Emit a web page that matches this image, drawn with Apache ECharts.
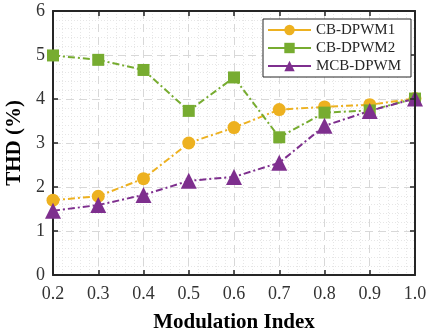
<!DOCTYPE html>
<html><head><meta charset="utf-8">
<script src="https://cdn.jsdelivr.net/npm/echarts@6/dist/echarts.min.js"></script>
<style>html,body{margin:0;padding:0;background:#fff}#c{width:429px;height:330px}</style>
</head><body><div id="c"></div>
<script>
var modIndex = [0.2, 0.3, 0.4, 0.5, 0.6, 0.7, 0.8, 0.9, 1.0];
var cbDpwm1 = [1.70, 1.79, 2.19, 3.00, 3.35, 3.76, 3.82, 3.87, 4.01];
var cbDpwm2 = [4.99, 4.89, 4.66, 3.73, 4.49, 3.13, 3.69, 3.74, 4.01];
var mcbDpwm = [1.46, 1.59, 1.82, 2.14, 2.23, 2.55, 3.39, 3.73, 4.01];
var names = ['CB-DPWM1', 'CB-DPWM2', 'MCB-DPWM'];
var colors = ['#EDB120', '#77AC30', '#7E2F8E'];

function pairs(ys){ return modIndex.map(function(x,i){ return [x, ys[i]]; }); }
var font = 'Liberation Serif, Times New Roman, serif';
function mk(name, ys, color, symbol, size){
  return {name:name, type:'line', data:pairs(ys), symbol:symbol, symbolSize:size,
    lineStyle:{color:color, width:2, type:[7, 3, 2, 3]}, itemStyle:{color:color},
    emphasis:{disabled:true}, z:3};
}
function axisLine(){ return {show:true, onZero:false, lineStyle:{color:'#262626', width:2}}; }
function tick(){ return {show:true, inside:true, length:5, lineStyle:{color:'#262626', width:1.5}}; }
var chart = echarts.init(document.getElementById('c'));
chart.setOption({
  animation:false,
  grid:{left:53, right:14, top:11, bottom:55, outerBoundsMode:'none'},
  legend:{
    data:names, orient:'vertical', left:263, top:19, z:20,
    backgroundColor:'#fff', borderColor:'#262626', borderWidth:1,
    padding:[2,10,2,4], itemGap:0, itemWidth:43, itemHeight:13,
    textStyle:{fontFamily:font, fontSize:15, color:'#262626', lineHeight:18},
    lineStyle:{type:'solid'}
  },
  xAxis:[{
    type:'value', min:0.2, max:1.0, interval:0.1,
    name:'Modulation Index', nameLocation:'middle', nameGap:37,
    nameTextStyle:{fontFamily:font, fontSize:21, fontWeight:'bold', color:'#000'},
    axisLine:axisLine(), axisTick:tick(),
    axisLabel:{fontFamily:font, fontSize:18, color:'#333', margin:10,
      formatter:function(v){return v.toFixed(1);}},
    splitLine:{show:true, lineStyle:{color:'#d8d8d8', width:1, type:[8,5]}},
    minorTick:{show:true, splitNumber:5, length:0},
    minorSplitLine:{show:true, lineStyle:{color:'#e6e6e6', width:1, type:[1,2]}}
  },{
    type:'value', min:0.2, max:1.0, interval:0.1, position:'top', z:10,
    axisLine:axisLine(), axisTick:tick(),
    axisLabel:{show:true, color:'rgba(0,0,0,0)', formatter:function(){return '';}},
    splitLine:{show:false}
  }],
  yAxis:[{
    type:'value', min:0, max:6, interval:1,
    name:'THD (%)', nameLocation:'middle', nameGap:23,
    nameTextStyle:{fontFamily:font, fontSize:21, fontWeight:'bold', color:'#000'},
    axisLine:axisLine(), axisTick:tick(),
    axisLabel:{fontFamily:font, fontSize:18, color:'#333', margin:8},
    splitLine:{show:true, lineStyle:{color:'#d8d8d8', width:1, type:[8,5]}},
    minorTick:{show:true, splitNumber:5, length:0},
    minorSplitLine:{show:true, lineStyle:{color:'#e6e6e6', width:1, type:[1,2]}}
  },{
    type:'value', min:0, max:6, interval:1, position:'right', z:10,
    axisLine:axisLine(), axisTick:tick(),
    axisLabel:{show:true, color:'rgba(0,0,0,0)', formatter:function(){return '';}},
    splitLine:{show:false}
  }],
  series:[
    mk(names[0], cbDpwm1, colors[0], 'circle', 13),
    mk(names[1], cbDpwm2, colors[1], 'rect', 12),
    mk(names[2], mcbDpwm, colors[2], 'triangle', 16)
  ]
});
</script></body></html>
